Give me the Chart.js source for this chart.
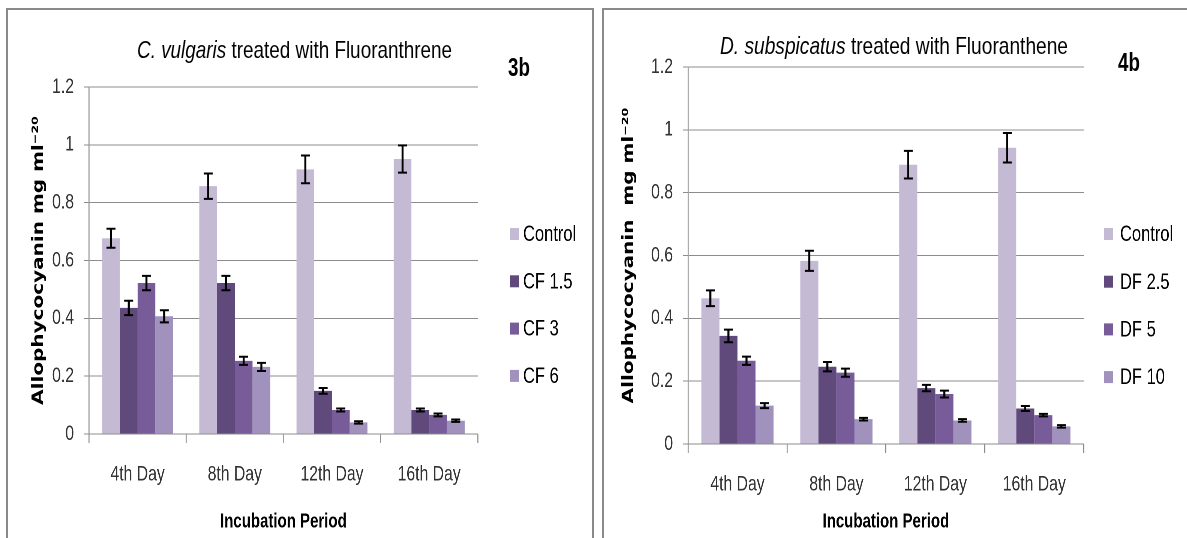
<!DOCTYPE html>
<html><head><meta charset="utf-8">
<script src="https://cdn.jsdelivr.net/npm/chart.js@4.4.1/dist/chart.umd.min.js"></script>
<style>
html,body{margin:0;padding:0;background:#fff;width:1187px;height:538px;overflow:hidden;position:relative;}
.panel{position:absolute;border:2px solid #8a8a8a;box-sizing:border-box;}
#p1{left:6px;top:8px;width:588px;height:560px;}
#p2{left:602px;top:8px;width:620px;height:560px;}
canvas{position:absolute;top:0;transform-origin:0 0;}
.ttl{position:absolute;font-family:'Liberation Sans',Arial,sans-serif;font-size:24px;white-space:nowrap;color:#000;transform-origin:0 0;}
.tag{position:absolute;font-family:'Liberation Sans',Arial,sans-serif;font-size:25px;font-weight:bold;color:#000;white-space:nowrap;transform-origin:0 0;}
</style></head>
<body>
<div class="panel" id="p1"></div>
<div class="panel" id="p2"></div>
<canvas id="c1"></canvas>
<canvas id="c2"></canvas>
<div class="ttl" id="t1"><i>C. vulgaris</i> treated with Fluoranthrene</div>
<div class="ttl" id="t2"><i>D. subspicatus</i> treated with Fluoranthene</div>
<div class="tag" id="g1">3b</div>
<div class="tag" id="g2">4b</div>
<script>
// ---- data ----
const categories = ['4th Day', '8th Day', '12th Day', '16th Day'];
const yTickLabels = ['0', '0.2', '0.4', '0.6', '0.8', '1', '1.2'];

const cvLabels = ['Control', 'CF 1.5', 'CF 3', 'CF 6'];
const cvControl = [0.677, 0.857, 0.915, 0.951];
const cvControlErr = [0.033, 0.044, 0.048, 0.047];
const cvCF15 = [0.436, 0.522, 0.149, 0.083];
const cvCF15Err = [0.025, 0.025, 0.010, 0.005];
const cvCF3 = [0.522, 0.253, 0.083, 0.066];
const cvCF3Err = [0.025, 0.014, 0.005, 0.005];
const cvCF6 = [0.407, 0.232, 0.040, 0.046];
const cvCF6Err = [0.021, 0.014, 0.004, 0.004];

const dsLabels = ['Control', 'DF 2.5', 'DF 5', 'DF 10'];
const dsControl = [0.464, 0.583, 0.889, 0.943];
const dsControlErr = [0.025, 0.032, 0.044, 0.047];
const dsDF25 = [0.344, 0.246, 0.178, 0.113];
const dsDF25Err = [0.020, 0.015, 0.010, 0.008];
const dsDF5 = [0.265, 0.227, 0.159, 0.092];
const dsDF5Err = [0.013, 0.013, 0.011, 0.004];
const dsDF10 = [0.122, 0.079, 0.075, 0.056];
const dsDF10Err = [0.008, 0.004, 0.004, 0.004];

const colors = ['#c4bad4', '#604a7b', '#775c99', '#a091bd'];

// horizontal squeeze of the drawing (the reference figure is narrowed)
const SQ = 0.75;

// ---- plugins ----
const errorBars = {
  id: 'errorBars',
  afterDatasetsDraw(chart) {
    const ctx = chart.ctx, y = chart.scales.y;
    const cap = 4.5 / SQ;
    chart.data.datasets.forEach((ds, di) => {
      const meta = chart.getDatasetMeta(di);
      meta.data.forEach((bar, i) => {
        const v = ds.data[i], e = ds.errs[i];
        const t = y.getPixelForValue(v + e), b = y.getPixelForValue(v - e);
        ctx.save();
        ctx.strokeStyle = '#000';
        ctx.lineWidth = 2 / SQ;
        ctx.beginPath(); ctx.moveTo(bar.x, t); ctx.lineTo(bar.x, b); ctx.stroke();
        ctx.lineWidth = 2;
        ctx.beginPath();
        ctx.moveTo(bar.x - cap, t); ctx.lineTo(bar.x + cap, t);
        ctx.moveTo(bar.x - cap, b); ctx.lineTo(bar.x + cap, b);
        ctx.stroke();
        ctx.restore();
      });
    });
  }
};
const sideLegend = {
  id: 'sideLegend',
  afterDraw(chart, args, o) {
    const ctx = chart.ctx;
    ctx.save();
    chart.data.datasets.forEach((ds, i) => {
      const cy = o.y0 + i * o.step;
      ctx.fillStyle = ds.backgroundColor;
      ctx.fillRect(o.boxX, cy - 6, 9 / SQ, 12);
      ctx.fillStyle = '#000';
      ctx.font = o.font;
      ctx.textBaseline = 'middle';
      ctx.textAlign = 'left';
      ctx.fillText(ds.label, o.textX, cy + 1);
    });
    ctx.restore();
  }
};

const sans = "'Liberation Sans',Arial,sans-serif";

// lay: page coordinates of canvas left/width, axis x, plot right, y-title centre, legend box/text x
function makeChart(id, labels, series, errs, lay) {
  const cv = document.getElementById(id);
  const W = lay.cw / SQ, H = 538;
  cv.width = W; cv.height = H;
  cv.style.left = lay.cl + 'px';
  cv.style.transform = 'scaleX(' + SQ + ')';
  const rel = px => (px - lay.cl) / SQ;
  const yW = 70 / SQ;
  const padL = rel(lay.axisX) - yW;
  const padR = W - rel(lay.rightX);
  const ytLH = 20 * 1.2;
  const ytPad = rel(lay.ytX) - padL - ytLH / 2;
  const datasets = series.map((s, i) => ({
    label: labels[i], data: s, errs: errs[i],
    backgroundColor: colors[i], borderWidth: 0,
    barPercentage: 1.0, categoryPercentage: 0.73
  }));
  return new Chart(cv, {
    type: 'bar',
    data: { labels: categories, datasets },
    options: {
      responsive: false, animation: false, devicePixelRatio: 2,
      layout: { padding: { left: padL, right: padR, top: lay.top, bottom: 0 } },
      plugins: {
        legend: { display: false }, tooltip: { enabled: false }, title: { display: false },
        sideLegend: { boxX: rel(lay.boxX), textX: rel(lay.textX), y0: lay.y0, step: lay.step, font: '22px ' + sans }
      },
      scales: {
        x: {
          grid: { display: true, drawOnChartArea: false, drawTicks: true, tickLength: 9, color: '#8c8c8c', lineWidth: 1 / SQ, offset: true },
          border: { display: false },
          ticks: { color: '#333', font: { family: sans, size: 21 }, padding: 19 },
          title: { display: true, text: 'Incubation Period', color: '#000', font: { family: sans, size: 20, weight: 'bold' }, padding: { top: 0, bottom: 4 } },
          afterFit(s) { s.height = lay.xH; }
        },
        y: {
          min: 0, max: 1.2,
          ticks: { stepSize: 0.2, color: '#333', font: { family: sans, size: 21 }, padding: 10 / SQ,
            callback: (v, i) => yTickLabels[i] },
          grid: { color: '#8c8c8c', lineWidth: 1, tickLength: 5 / SQ, drawTicks: true },
          border: { display: true, color: '#8c8c8c', width: 1 / SQ },
          title: { display: true, text: lay.ytitle, color: '#000', font: { family: "'DejaVu Sans'", size: 20, weight: 'bold' }, padding: { top: ytPad, bottom: 0 } },
          afterFit(s) { s.width = yW; }
        }
      }
    },
    plugins: [errorBars, sideLegend]
  });
}

makeChart('c1', cvLabels, [cvControl, cvCF15, cvCF3, cvCF6], [cvControlErr, cvCF15Err, cvCF3Err, cvCF6Err],
  { cl: 0, cw: 595, axisX: 89, rightX: 478, ytX: 39, top: 87, xH: 104, boxX: 510, textX: 523, y0: 234, step: 47.3,
    ytitle: 'Allophycocyanin mg ml\u207B\u00B2\u2070' });
makeChart('c2', dsLabels, [dsControl, dsDF25, dsDF5, dsDF10], [dsControlErr, dsDF25Err, dsDF5Err, dsDF10Err],
  { cl: 595, cw: 592, axisX: 688, rightX: 1084, ytX: 629, top: 67, xH: 94, boxX: 1104, textX: 1120, y0: 234, step: 47.7,
    ytitle: 'Allophycocyanin  mg ml\u207B\u00B2\u2070' });

// titles: centred, horizontally narrowed to the reference width
function place(id, cx, cy, w) {
  const el = document.getElementById(id);
  const r = el.getBoundingClientRect();
  const s = w ? w / r.width : SQ;
  el.style.transform = 'scaleX(' + s + ')';
  el.style.left = (cx - r.width * s / 2) + 'px';
  el.style.top = (cy - r.height / 2) + 'px';
}
place('t1', 294.5, 50, 315);
place('t2', 894, 46, 348);
place('g1', 519, 67, 0);
place('g2', 1129, 62, 0);
</script>
</body></html>
